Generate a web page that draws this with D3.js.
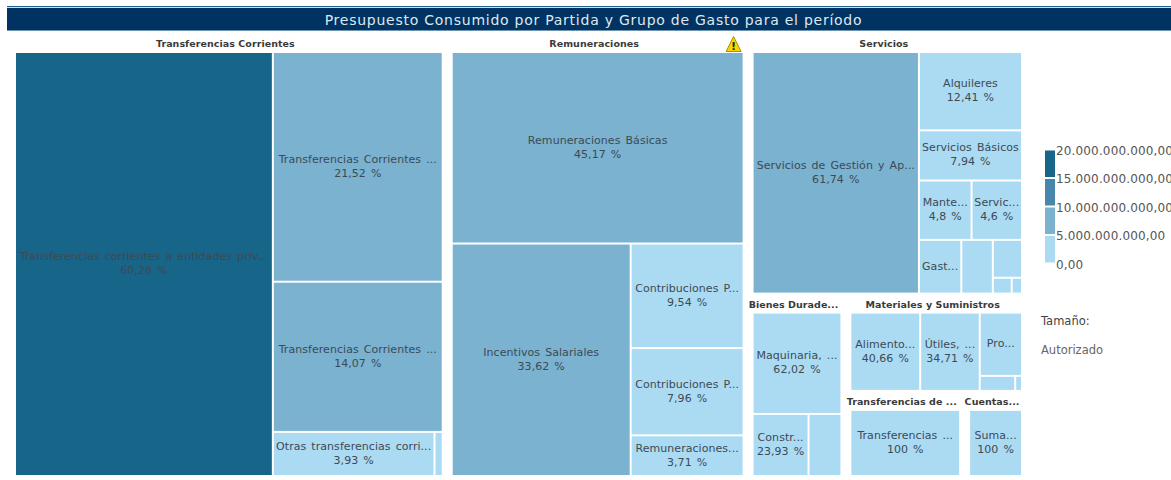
<!DOCTYPE html>
<html>
<head>
<meta charset="utf-8">
<title>Presupuesto Consumido</title>
<script src="https://d3js.org/d3.v7.min.js"></script>
<style>
    html, body { margin: 0; padding: 0; background: #fff; overflow: hidden; }
    svg { display: block; }
    text { font-family: "DejaVu Sans", sans-serif; }
</style>
</head>
<body>
<div id="chart"></div>
<script>
const chartTitle = 'Presupuesto Consumido por Partida y Grupo de Gasto para el período';

// group totals (authorized, in thousand millions), estimated from the areas
const groupNames = ['Transferencias Corrientes', 'Remuneraciones', 'Servicios', 'Bienes Durade...', 'Materiales y Suministros', 'Transferencias de ...', 'Cuentas...'];
const groupTotals = [36.0, 24.8, 13.5, 3.32, 3.27, 1.88, 0.98];

// per group: label of each cell, share in percent, consumed amount (colour)
const tcNames = ['Transferencias corrientes a entidades priv...', 'Transferencias Corrientes ...', 'Transferencias Corrientes ...', 'Otras transferencias corri...', ''];
const tcShares = [60.28, 21.52, 14.07, 3.93, 0.2];
const tcConsumed = [18.2, 7.4, 5.3, 1.3, 0.05];

const remNames = ['Remuneraciones Básicas', 'Incentivos Salariales', 'Contribuciones P...', 'Contribuciones P...', 'Remuneraciones...'];
const remShares = [45.17, 33.62, 9.54, 7.96, 3.71];
const remConsumed = [8.9, 7.1, 2.3, 1.9, 0.9];

const servNames = ['Servicios de Gestión y Ap...', 'Alquileres', 'Servicios Básicos', 'Mante...', 'Servic...', 'Gast...', '', '', '', ''];
const servShares = [61.74, 12.41, 7.94, 4.8, 4.6, 3.5, 2.6, 1.7, 0.46, 0.25];
const servConsumed = [6.4, 1.6, 1.0, 0.6, 0.6, 0.4, 0.3, 0.2, 0.06, 0.03];

const bienesNames = ['Maquinaria, ...', 'Constr...', ''];
const bienesShares = [62.02, 23.93, 14.05];
const bienesConsumed = [1.9, 0.7, 0.4];

const matNames = ['Alimento...', 'Útiles, ...', 'Pro...', '', ''];
const matShares = [40.66, 34.71, 19.9, 3.97, 0.76];
const matConsumed = [1.2, 1.0, 0.6, 0.1, 0.02];

const tdNames = ['Transferencias ...'];
const tdShares = [100];
const tdConsumed = [1.7];

const ctasNames = ['Suma...'];
const ctasShares = [100];
const ctasConsumed = [0.9];

// cells without a percent in the reference
const noPercent = ['Gast...', 'Pro...', ''];

// how the cells of each group nest, as indexes into the arrays above
const groupNesting = [
    ['row', 0, ['col', 1, 2, ['row', 3, 4]]],
    ['col', 0, ['row', 1, ['col', 2, 3, 4]]],
    ['row', 0, ['col', 1, 2, ['row', 3, 4], ['row', 5, 6, ['col', 7, ['row', 8, 9]]]]],
    ['col', 0, ['row', 1, 2]],
    ['row', 0, 1, ['col', 2, ['row', 3, 4]]],
    ['row', 0],
    ['row', 0]
];
const groupCells = [
    [tcNames, tcShares, tcConsumed],
    [remNames, remShares, remConsumed],
    [servNames, servShares, servConsumed],
    [bienesNames, bienesShares, bienesConsumed],
    [matNames, matShares, matConsumed],
    [tdNames, tdShares, tdConsumed],
    [ctasNames, ctasShares, ctasConsumed]
];

const legendTicks = [20, 15, 10, 5, 0];
const legendLabels = ['20.000.000.000,00', '15.000.000.000,00', '10.000.000.000,00', '5.000.000.000,00', '0,00'];
const colorBreaks = [5, 10, 15];
const colorRange = ['#abdaf3', '#7ab2d0', '#4787ab', '#176588'];

const svgWidth = 1171, svgHeight = 480;
const margin = { top: 32, left: 10 };
const width = 1016, height = 443;

const color = d3.scaleThreshold().domain(colorBreaks).range(colorRange);

function nest(spec, g) {
    if (typeof spec === 'number') {
        const [names, shares, consumed] = groupCells[g];
        return {
            name: names[spec],
            share: shares[spec],
            consumed: consumed[spec],
            value: groupTotals[g] * shares[spec] / 100
        };
    }
    return { dir: spec[0], inGroup: true, children: spec.slice(1).map(s => nest(s, g)) };
}

function group(i) {
    const n = nest(groupNesting[i], i);
    n.group = groupNames[i];
    return n;
}

const root = d3.hierarchy({
    dir: 'row',
    children: [group(0), group(1), {
        dir: 'col',
        children: [group(2), {
            dir: 'row',
            children: [group(3), {
                dir: 'col',
                children: [group(4), { dir: 'row', children: [group(5), group(6)] }]
            }]
        }]
    }]
}).sum(d => d.children ? 0 : d.value);

d3.treemap()
    .size([width, height])
    .tile((node, x0, y0, x1, y1) => (node.data.dir === 'row' ? d3.treemapDice : d3.treemapSlice)(node, x0, y0, x1, y1))
    .paddingInner(d => d.data.inGroup || d.data.group ? 2 : 0)
    .paddingTop(d => d.data.group ? 21 : 0)
    .paddingLeft(d => d.data.group ? 6 : 0)
    .paddingRight(d => d.data.group ? 5 : 0)(root);

const svg = d3.select('#chart').append('svg')
    .attr('width', svgWidth)
    .attr('height', svgHeight);

// title bar
svg.append('rect').attr('x', 7).attr('y', 6).attr('width', svgWidth - 7).attr('height', 1).attr('fill', '#1f5f8f');
svg.append('rect').attr('x', 7).attr('y', 7).attr('width', svgWidth - 7).attr('height', 1).attr('fill', '#cfe0ec');
svg.append('rect').attr('x', 7).attr('y', 8).attr('width', svgWidth - 7).attr('height', 22).attr('fill', '#003362');
svg.append('rect').attr('x', 7).attr('y', 30).attr('width', svgWidth - 7).attr('height', 1).attr('fill', '#6f94b0');
svg.append('text')
    .attr('x', 593.5).attr('y', 25)
    .attr('text-anchor', 'middle')
    .attr('fill', '#dfe8ef')
    .style('font-size', '14px')
    .style('letter-spacing', '0.75px')
    .text(chartTitle);

const g = svg.append('g').attr('transform', 'translate(' + margin.left + ',' + margin.top + ')');

const leaves = g.selectAll('.cell')
    .data(root.leaves())
    .enter().append('g')
    .attr('class', 'cell');

leaves.append('rect')
    .attr('x', d => d.x0)
    .attr('y', d => d.y0)
    .attr('width', d => d.x1 - d.x0)
    .attr('height', d => d.y1 - d.y0)
    .attr('fill', d => color(d.data.consumed));

const labelColor = '#3d4a54';

leaves.append('text')
    .attr('x', d => (d.x0 + d.x1) / 2)
    .attr('y', d => (d.y0 + d.y1) / 2 + (noPercent.includes(d.data.name) ? -1 : -8))
    .attr('dy', '0.36em')
    .attr('text-anchor', 'middle')
    .attr('fill', labelColor)
    .style('font-size', '11px')
    .style('word-spacing', '1.5px')
    .style('letter-spacing', '0.05px')
    .text(d => d.data.name);

leaves.filter(d => !noPercent.includes(d.data.name)).append('text')
    .attr('x', d => (d.x0 + d.x1) / 2)
    .attr('y', d => (d.y0 + d.y1) / 2 + 6)
    .attr('dy', '0.36em')
    .attr('text-anchor', 'middle')
    .attr('fill', labelColor)
    .style('font-size', '11px')
    .style('word-spacing', '1.5px')
    .style('letter-spacing', '0.05px')
    .text(d => String(d.data.share).replace('.', ',') + ' %');

// group headers
const groups = root.descendants().filter(d => d.data.group);

g.selectAll('.header')
    .data(groups)
    .enter().append('text')
    .attr('class', 'header')
    .attr('x', d => (d.x0 + d.x1) / 2 - 3)
    .attr('y', d => d.y0 + 15)
    .attr('text-anchor', 'middle')
    .attr('fill', '#3a3a3a')
    .style('font-size', '9.5px')
    .style('font-weight', 'bold')
    .style('letter-spacing', '0.05px')
    .text(d => d.data.group);

// warning sign on Remuneraciones
const rem = groups[1];
const warn = g.append('g').attr('transform', 'translate(' + (rem.x1 - 21.5) + ',' + (rem.y0 + 4.5) + ')');
warn.append('path').attr('d', 'M7.5 0 L15 15 L0 15 Z').attr('fill', '#f5d800').attr('stroke', '#a89000').attr('stroke-linejoin', 'round');
warn.append('text').attr('x', 7.5).attr('y', 13.5).attr('text-anchor', 'middle').attr('fill', '#222')
    .style('font-size', '11px').style('font-weight', 'bold').text('!');

// legend
const legendY = d3.scaleLinear().domain([0, 20]).range([264.5, 150.5]);

svg.selectAll('.legend-box')
    .data(legendTicks.slice(0, 4))
    .enter().append('rect')
    .attr('class', 'legend-box')
    .attr('x', 1045)
    .attr('y', d => legendY(d))
    .attr('width', 10)
    .attr('height', d => legendY(d - 5) - legendY(d) - 2)
    .attr('fill', d => color(d - 1));

svg.selectAll('.legend-label')
    .data(legendTicks)
    .enter().append('text')
    .attr('class', 'legend-label')
    .attr('x', 1056)
    .attr('y', d => legendY(d))
    .attr('dy', '0.36em')
    .attr('fill', '#555')
    .style('font-size', '12px')
    .style('letter-spacing', '0.15px')
    .text((d, i) => legendLabels[i]);

svg.append('text').attr('x', 1041).attr('y', 321).attr('dy', '0.36em').attr('fill', '#444').style('font-size', '11.5px').text('Tamaño:');
svg.append('text').attr('x', 1041).attr('y', 350).attr('dy', '0.36em').attr('fill', '#666').style('font-size', '11.5px').text('Autorizado');
</script>
</body>
</html>
